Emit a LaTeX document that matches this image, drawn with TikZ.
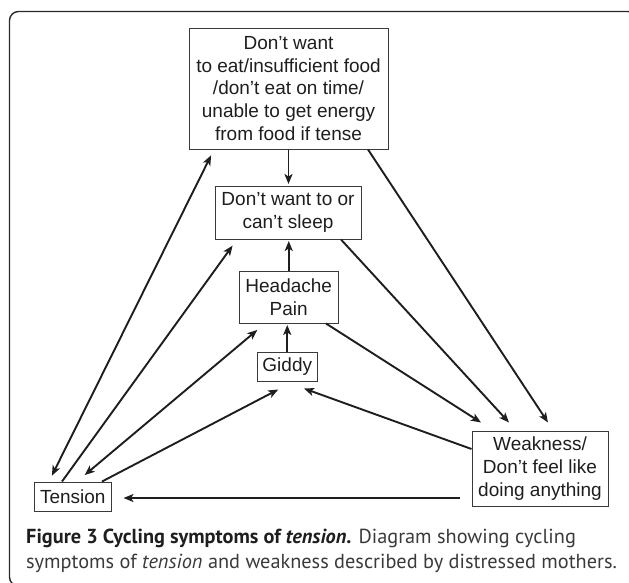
\documentclass[tikz,border=0pt]{standalone}
\usepackage{fontspec}
\setmainfont{Liberation Sans}
\newfontfamily\capfont{PT Sans}
\usetikzlibrary{arrows.meta}
\definecolor{ink}{HTML}{1E1E1E}
\definecolor{boxline}{HTML}{3A3A3A}
\definecolor{capgray}{HTML}{3A3A3A}
\definecolor{framec}{HTML}{2A2A2A}
\begin{document}
\begin{tikzpicture}[x=1pt,y=-1pt,
  box/.style={draw=boxline, line width=1pt, text=ink, align=center, inner sep=0pt,
    font=\fontsize{19}{22.8}\selectfont},
  mytip/.tip={Stealth[length=10pt,width=8pt,inset=2.5pt]},
  arr/.style={draw=ink, line width=1.9pt, -mytip},
  darr/.style={draw=ink, line width=1.9pt, mytip-mytip},
  captext/.style={anchor=base west, inner sep=0pt, text=ink, font=\capfont\fontsize{20.3}{24}\selectfont}]
\useasboundingbox (0,0) rectangle (629,582);
\clip (0,0) rectangle (629,582);
% frame
\draw[framec, line width=1.4pt, rounded corners=9pt] (9.5,11.5) rectangle (637,586);
% nodes
\node[box, minimum width=199pt, minimum height=121pt] (top) at (288.5,88.5)
  {Don’t want\\to eat/insufficient food\\/don’t eat on time/\\unable to get energy\\from food if tense};
\node[box, minimum width=146pt, minimum height=53pt] (sleep) at (288,212.5)
  {Don’t want to or\\can’t sleep};
\node[box, minimum width=98.5pt, minimum height=52pt] (head) at (288.75,297)
  {Headache\\Pain};
\node[box, minimum width=59.5pt, minimum height=29pt] (giddy) at (287.25,366.5)
  {Giddy};
\node[box, minimum width=136pt, minimum height=75pt] (weak) at (540,468.5)
  {Weakness/\\Don’t feel like\\doing anything};
\node[box, minimum width=76.5pt, minimum height=29pt] (ten) at (72.75,496.5)
  {Tension};
% vertical chain
\draw[arr, shorten >=1.5pt] (top.south) -- (top.south |- sleep.north);
\draw[arr, shorten >=1.5pt] (head.north) -- (head.north |- sleep.south);
\draw[arr, shorten >=1.5pt] (giddy.north) -- (giddy.north |- head.south);
% from tension
\draw[darr, shorten <=6.5pt, shorten >=6.5pt] ([xshift=-23.75pt]ten.north) -- ([xshift=-74.5pt]top.south);
\draw[arr, shorten >=7.5pt] ([xshift=-10.75pt]ten.north) -- ([xshift=-51pt]sleep.south);
\draw[darr, shorten <=10pt, shorten >=10pt] ([xshift=4.25pt]ten.north) -- ([xshift=-23.75pt]head.south);
\draw[arr] ([xshift=29.25pt]ten.north) -- ([xshift=-9pt,yshift=-8pt]giddy.south);
% to weakness
\draw[arr] ([yshift=19.5pt]weak.west) -- ([xshift=16.75pt,yshift=-7pt]giddy.south);
\draw[arr] ([xshift=37.25pt]head.south) -- ([xshift=-59pt,yshift=8pt]weak.north);
\draw[arr] ([xshift=53pt]sleep.south) -- ([xshift=-31pt,yshift=8pt]weak.north);
\draw[arr] ([xshift=79.5pt]top.south) -- ([xshift=8pt,yshift=8pt]weak.north);
\draw[arr] ([xshift=-12pt,yshift=-29.5pt]weak.west) -- ([xshift=12pt,yshift=-1.5pt]ten.east);
% caption
\node[captext] (cap1) at (26,543) {\textbf{Figure 3 Cycling symptoms of \textit{tension}.} \textcolor{capgray}{Diagram showing cycling}};
\node[captext] (cap2) at (26,568) {\textcolor{capgray}{symptoms of \textit{tension} and weakness described by distressed mothers.}};
\end{tikzpicture}
\end{document}
